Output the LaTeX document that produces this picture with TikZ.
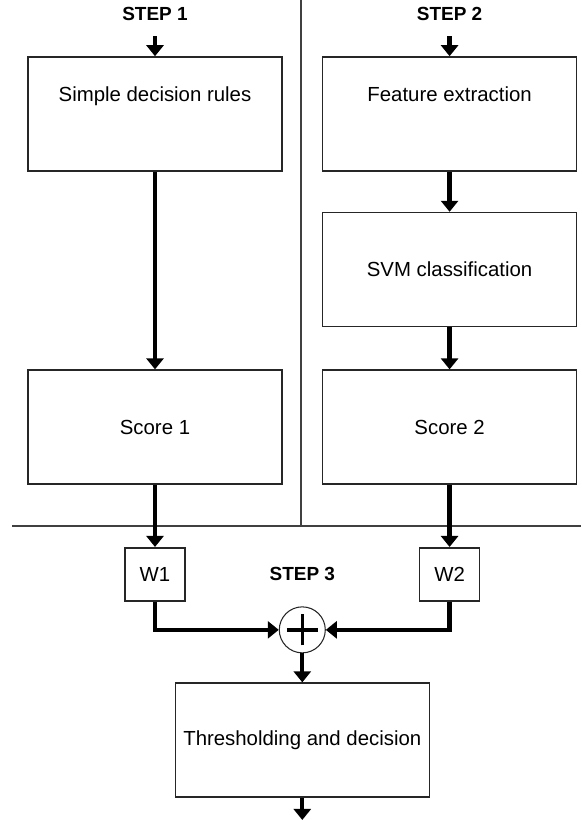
\documentclass[tikz,border=0pt]{standalone}
\usepackage{fontspec}
\setmainfont{Liberation Sans}
\usetikzlibrary{arrows.meta, positioning, calc}

\begin{document}
\begin{tikzpicture}[
        font=\fontsize{11.6pt}{14pt}\selectfont,
        node distance=0.8cm and 0.78cm,
        block/.style={rectangle, draw=black!85, line width=0.9pt, minimum width=5.08cm, minimum height=2.28cm, align=center},
        highblock/.style={block, text depth=0.8cm},
        weight/.style={rectangle, draw=black!85, line width=0.9pt, minimum width=1.2cm, minimum height=1.06cm},
        steplabel/.style={inner sep=0pt, font=\fontsize{10.8pt}{13pt}\selectfont\bfseries},
        adder/.style={circle, draw=black!85, line width=0.6pt, minimum size=0.92cm, inner sep=0pt},
        flow/.style={-{Triangle[width=0.34cm, length=0.22cm]}, line width=2.5pt},
        divider/.style={draw=black!75, line width=0.9pt}
    ]
    \useasboundingbox (0,0) rectangle (11.62,-16.4);

    % Nodes
    \node[highblock] (rules) at (3.1,-2.28) {Simple decision rules};
    \node[highblock, right=0.78cm of rules] (feat) {Feature extraction};
    \node[block, below=0.8cm of feat] (svm) {SVM classification};
    \node[block, below=0.84cm of svm] (score2) {Score 2};
    \node[block, left=0.78cm of score2] (score1) {Score 1};
    \node[weight, below=1.24cm of score1] (w1) {W1};
    \node[weight, below=1.24cm of score2] (w2) {W2};
    \node[steplabel, above=0.7cm of rules] (step1) {STEP 1};
    \node[steplabel, above=0.7cm of feat] (step2) {STEP 2};
    \node[steplabel] (step3) at ($(w1)!0.5!(w2)$) {STEP 3};
    \node[adder, below=0.5cm of step3] (sum) {};
    \node[block, below=0.58cm of sum] (thresh) {Thresholding and decision};
    \coordinate[below=0.44cm of thresh] (out);

    % Dividers
    \draw[divider] (6.02,0) -- (6.02,-10.52);
    \draw[divider] (0.24,-10.52) -- (11.62,-10.52);

    % Plus sign
    \draw[line width=2pt] ([xshift=-0.31cm]sum.center) -- ([xshift=0.31cm]sum.center)
        ([yshift=-0.31cm]sum.center) -- ([yshift=0.31cm]sum.center);

    % Links
    \draw[flow, shorten <=0.3cm] (step1) -- (rules);
    \draw[flow, shorten <=0.3cm] (step2) -- (feat);
    \draw[flow] (rules) -- (score1);
    \draw[flow] (feat) -- (svm);
    \draw[flow] (svm) -- (score2);
    \draw[flow] (score1) -- (w1);
    \draw[flow] (score2) -- (w2);
    \draw[flow] (w1) |- (sum);
    \draw[flow] (w2) |- (sum);
    \draw[flow] (sum) -- (thresh);
    \draw[flow] (thresh) -- (out);

\end{tikzpicture}
\end{document}
